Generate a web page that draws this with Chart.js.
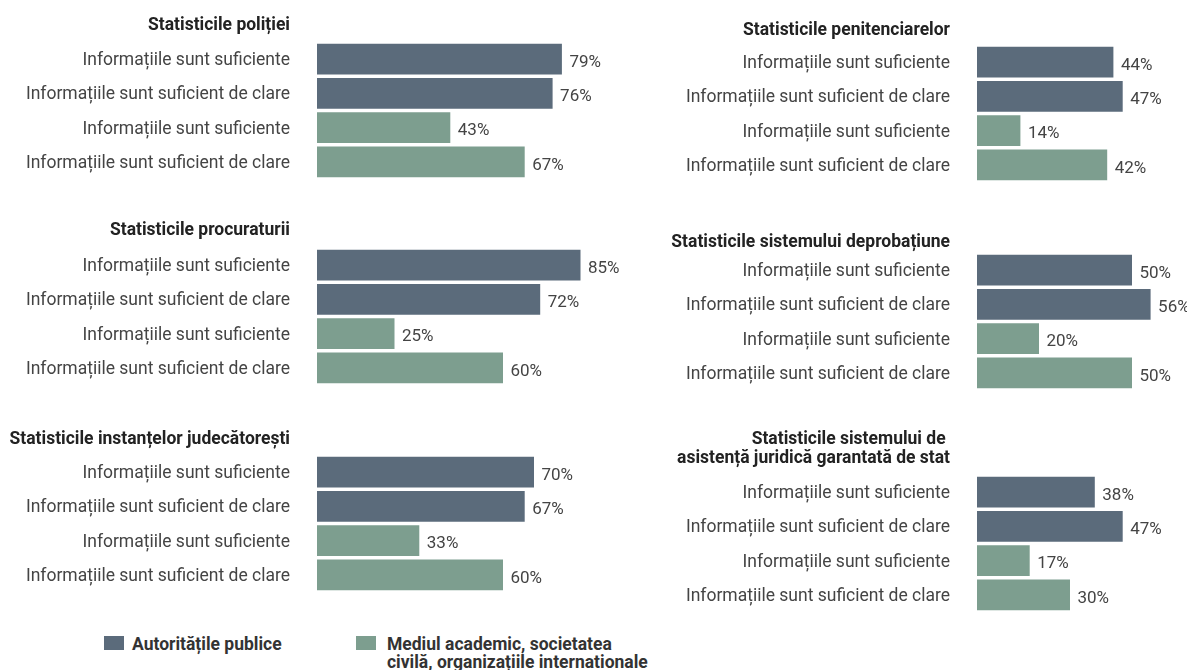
<!DOCTYPE html>
<html>
<head>
<meta charset="utf-8">
<script src="https://cdn.jsdelivr.net/npm/chart.js@4.4.1/dist/chart.umd.min.js"></script>
<style>
  html, body { margin: 0; padding: 0; background: #fff; }
  body { width: 1187px; height: 670px; position: relative; overflow: hidden; font-family: Roboto, sans-serif; }
  canvas { position: absolute; }
  .key { position: absolute; width: 20px; height: 14px; }
  .key-text { position: absolute; font: 700 17.5px Roboto, sans-serif; color: #333; line-height: 18px; }
</style>
</head>
<body>
<canvas id="politie"></canvas>
<canvas id="procuratura"></canvas>
<canvas id="instante"></canvas>
<canvas id="penitenciare"></canvas>
<canvas id="probatiune"></canvas>
<canvas id="asistenta"></canvas>

<div class="key" style="left:104px; top:636px; background:#5b6b7b"></div>
<div class="key-text" style="left:132px; top:635px">Autoritățile publice</div>
<div class="key" style="left:356px; top:636px; background:#7d9e8f"></div>
<div class="key-text" style="left:387px; top:635px">Mediul academic, societatea<br>civilă, organizațiile internationale</div>

<script>
// row labels, the same four for every block
const categories = [
  'Informațiile sunt suficiente',
  'Informațiile sunt suficient de clare',
  'Informațiile sunt suficiente',
  'Informațiile sunt suficient de clare'
];

// % per block: first two rows = public authorities, last two = academia / civil society
const politie = [79, 76, 43, 67];
const procuratura = [85, 72, 25, 60];
const instante = [70, 67, 33, 60];
const penitenciare = [44, 47, 14, 42];
const probatiune = [50, 56, 20, 50];
const asistenta = [38, 47, 17, 30];

const DARK = '#5b6b7b';
const GREEN = '#7d9e8f';
const barColors = [DARK, DARK, GREEN, GREEN];

const AXIS_W = 317;   // label column width, bars start here
const PAD_TOP = 45;   // room above the bars for the block title
const AREA_H = 137;

// block title, right-aligned with the row labels
const blockTitle = {
  id: 'blockTitle',
  afterDraw(chart, args, opts) {
    const { ctx, chartArea } = chart;
    ctx.save();
    ctx.font = '700 17.5px Roboto, sans-serif';
    ctx.fillStyle = '#222';
    ctx.textAlign = 'right';
    ctx.textBaseline = 'middle';
    const x = chartArea.left - 27;
    const lines = opts.lines;
    lines.forEach((t, i) => {
      ctx.fillText(t, x, chartArea.top - opts.gap - (lines.length - 1 - i) * 19);
    });
    ctx.restore();
  }
};

// percent label after each bar
const valueLabels = {
  id: 'valueLabels',
  afterDatasetsDraw(chart) {
    const { ctx } = chart;
    const meta = chart.getDatasetMeta(0);
    const data = chart.data.datasets[0].data;
    ctx.save();
    ctx.font = '17px Roboto, sans-serif';
    ctx.fillStyle = '#444';
    ctx.textAlign = 'left';
    ctx.textBaseline = 'middle';
    meta.data.forEach((bar, i) => {
      ctx.fillText(data[i] + '%', bar.x + 7.5, bar.y + 3.5);
    });
    ctx.restore();
  }
};

function drawBlock(id, title, values, cfg) {
  const el = document.getElementById(id);
  el.width = cfg.width;
  el.height = PAD_TOP + AREA_H + 10;
  el.style.left = cfg.left + 'px';
  el.style.top = (cfg.areaTop - PAD_TOP) + 'px';

  return new Chart(el, {
    type: 'bar',
    data: {
      labels: categories,
      datasets: [{
        data: values,
        backgroundColor: barColors,
        barPercentage: 0.9,
        categoryPercentage: 1
      }]
    },
    options: {
      indexAxis: 'y',
      responsive: false,
      animation: false,
      layout: { padding: { top: PAD_TOP, bottom: 10, left: 0, right: cfg.width - AXIS_W - cfg.xMax * 3.1 } },
      plugins: {
        legend: { display: false },
        tooltip: { enabled: false },
        blockTitle: { lines: title, gap: cfg.gap }
      },
      scales: {
        x: { display: false, min: 0, max: cfg.xMax },
        y: {
          afterFit(scale) {
            scale.width = AXIS_W;
            // tick padding is meant horizontally only
            scale.paddingTop = 0;
            scale.paddingBottom = 0;
          },
          grid: { display: false, drawTicks: false },
          border: { display: false },
          ticks: { padding: 27, labelOffset: 1.5, color: '#444', font: { family: 'Roboto', size: 17.5 } }
        }
      }
    },
    plugins: [blockTitle, valueLabels]
  });
}

drawBlock('politie', ['Statisticile poliției'], politie, { left: 0, width: 640, areaTop: 42, gap: 16.5, xMax: 100 });
drawBlock('procuratura', ['Statisticile procuraturii'], procuratura, { left: 0, width: 640, areaTop: 248, gap: 17, xMax: 100 });
drawBlock('instante', ['Statisticile instanțelor judecătorești'], instante, { left: 0, width: 640, areaTop: 455, gap: 15, xMax: 100 });
drawBlock('penitenciare', ['Statisticile penitenciarelor'], penitenciare, { left: 660, width: 527, areaTop: 45, gap: 14, xMax: 60 });
drawBlock('probatiune', ['Statisticile sistemului deprobațiune'], probatiune, { left: 660, width: 527, areaTop: 253, gap: 10, xMax: 60 });
drawBlock('asistenta', ['Statisticile sistemului de ', 'asistență juridică garantată de stat'], asistenta, { left: 660, width: 527, areaTop: 475, gap: 16.5, xMax: 60 });
</script>
</body>
</html>
